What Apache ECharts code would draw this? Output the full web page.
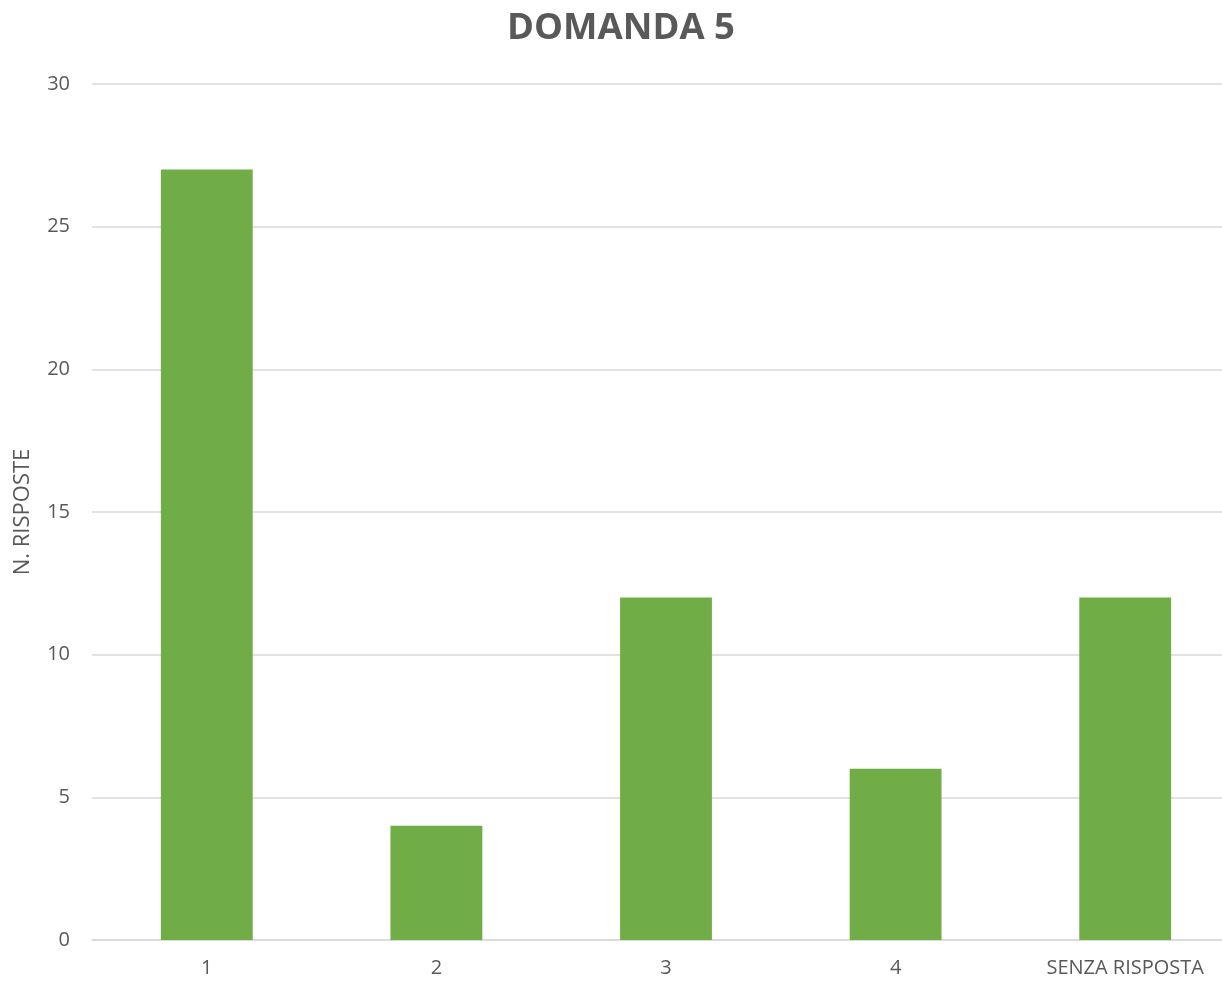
<!DOCTYPE html>
<html>
<head>
<meta charset="utf-8">
<script src="https://cdn.jsdelivr.net/npm/echarts@6/dist/echarts.min.js"></script>
<style>
  html, body { margin: 0; padding: 0; background: #fff; overflow: hidden; }
  #chart { width: 1240px; height: 982px; }
</style>
</head>
<body>
<div id="chart"></div>
<script>
var categories = ['1', '2', '3', '4', 'SENZA RISPOSTA'];
var counts = [27, 4, 12, 6, 12];
var yTicks = [0, 5, 10, 15, 20, 25, 30];

var textColor = '#595959';
var fontName = 'Open Sans';

var chart = echarts.init(document.getElementById('chart'));
var option = {
  backgroundColor: '#ffffff',
  animation: false,
  title: {
    text: 'DOMANDA 5',
    left: 616,
    textAlign: 'center',
    top: 5,
    textStyle: {
      color: textColor,
      fontFamily: fontName,
      fontWeight: 'bold',
      fontSize: 36.5
    }
  },
  grid: {
    left: 92,
    right: 0,
    top: 84,
    bottom: 42
  },
  xAxis: {
    type: 'category',
    data: categories,
    axisTick: { show: false },
    axisLine: { show: true, lineStyle: { color: '#d9d9d9', width: 1.5 } },
    axisLabel: {
      color: textColor,
      fontFamily: fontName,
      fontSize: 20,
      margin: 18
    }
  },
  yAxis: {
    type: 'value',
    min: yTicks[0],
    max: yTicks[yTicks.length - 1],
    interval: 5,
    name: 'N. RISPOSTE',
    nameLocation: 'middle',
    nameGap: 58,
    nameTextStyle: {
      color: textColor,
      fontFamily: fontName,
      fontSize: 22
    },
    axisLine: { show: false },
    axisTick: { show: false },
    axisLabel: {
      color: textColor,
      fontFamily: fontName,
      fontSize: 20,
      margin: 22
    },
    splitLine: { lineStyle: { color: '#d9d9d9', width: 1.5 } }
  },
  series: [{
    type: 'bar',
    data: counts,
    barWidth: '40%',
    itemStyle: { color: '#70AD47' }
  }]
};
chart.setOption(option);
</script>
</body>
</html>
